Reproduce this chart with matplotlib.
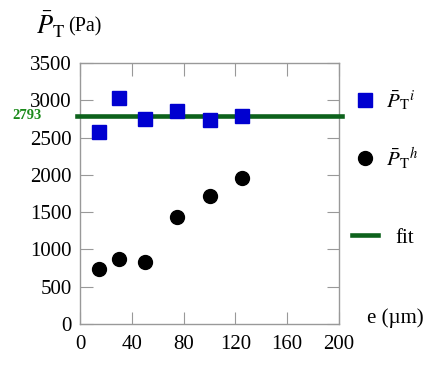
import matplotlib
matplotlib.use("Agg")
import matplotlib.pyplot as plt

plt.rcParams['font.family'] = ['Liberation Serif', 'DejaVu Serif']
plt.rcParams['mathtext.fontset'] = 'stix'

e_vals = [15, 30, 50, 75, 100, 125]
p_i = [2580, 3030, 2750, 2850, 2740, 2790]
p_h = [740, 870, 830, 1430, 1710, 1960]
fit_val = 2793
x_ticks = [0, 40, 80, 120, 160, 200]
y_ticks = [0, 500, 1000, 1500, 2000, 2500, 3000, 3500]

fig = plt.figure(figsize=(4.36, 3.66), dpi=100)
ax = fig.add_axes([80/436, 1 - 324/366, (339-80)/436, (324-63)/366])

h_i, = ax.plot(e_vals, p_i, 's', color='#0000d0', markersize=9.5, label=r'$\bar{P}_{\mathrm{T}}{}^{i}$', zorder=4)
h_h, = ax.plot(e_vals, p_h, 'o', color='black', markersize=10, label=r'$\bar{P}_{\mathrm{T}}{}^{h}$', zorder=4)
h_f, = ax.plot([x_ticks[0] - 2, x_ticks[-1] + 2], [fit_val, fit_val], '-', color='#0d621c', linewidth=3.3,
               label='fit', clip_on=False, zorder=3)

ax.set_xlim(0, 200)
ax.set_ylim(0, 3500)
ax.set_xticks(x_ticks)
ax.set_yticks(y_ticks)
ax.tick_params(direction='in', length=9, color='#999999', labelsize=15,
               top=True, right=True, pad=6)
ax.tick_params(axis='x', pad=8)
for s in ax.spines.values():
    s.set_color('#999999')
    s.set_linewidth(1)

fig.text(36/436, 1 - 25/366, r'$\bar{P}_{\mathrm{T}}$', fontsize=19, va='center', ha='left')
fig.text(68/436, 1 - 27/366, '(Pa)', fontsize=14.5, va='center', ha='left')
fig.text(367/436, 1 - 318/366, 'e (µm)', fontsize=15, va='center', ha='left')
ax.text(-0.205, fit_val, str(fit_val), transform=ax.get_yaxis_transform(), color='#1a8a1a',
        fontsize=10.5, fontweight='bold', fontstyle='normal', va='center', ha='center')

leg1 = ax.legend(handles=[h_i, h_h], loc='center left', bbox_to_anchor=(1.05, 0.745), frameon=False,
                 fontsize=15, labelspacing=1.55, handlelength=1.25, handletextpad=0.4,
                 borderaxespad=0, borderpad=0)
ax.add_artist(leg1)
ax.legend(handles=[h_f], loc='center left', bbox_to_anchor=(1.05, 0.33), frameon=False,
          fontsize=15, handlelength=1.25, handletextpad=0.85, borderaxespad=0, borderpad=0)

fig.savefig('out.png', dpi=100)
